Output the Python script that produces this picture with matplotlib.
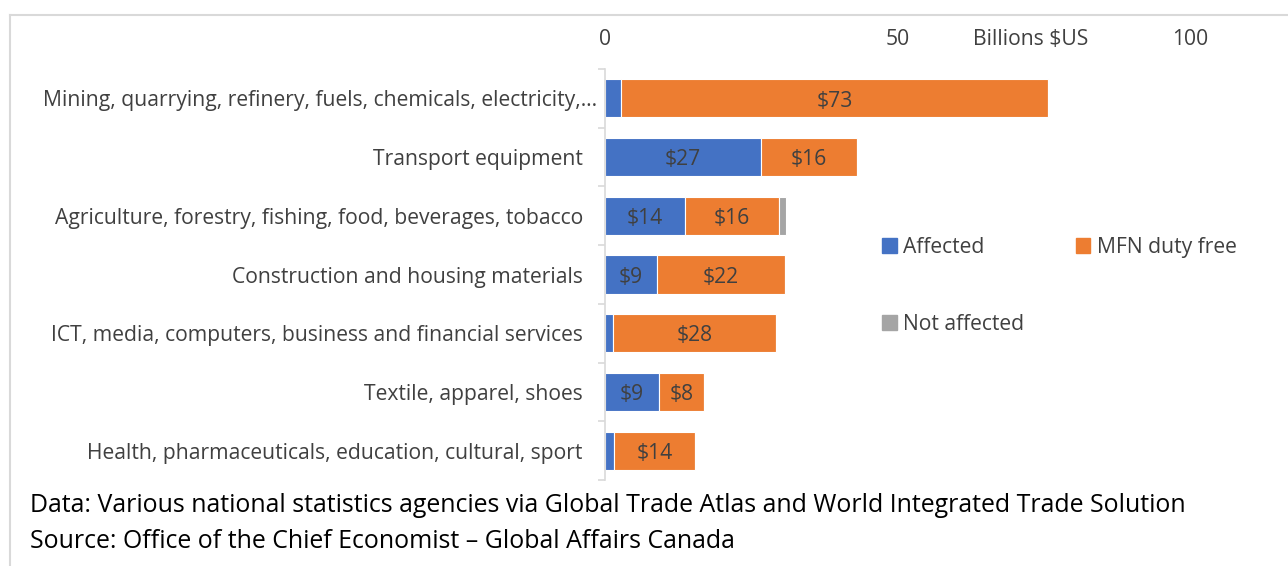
import matplotlib
matplotlib.use("Agg")
import matplotlib.pyplot as plt
import matplotlib.transforms as mtransforms
import numpy as np
from matplotlib.patches import Patch
from matplotlib.lines import Line2D

plt.rcParams['font.family'] = ['Open Sans', 'DejaVu Sans']

# ---------------- data ----------------
categories = [
    "Mining, quarrying, refinery, fuels, chemicals, electricity,\u2026",
    "Transport equipment",
    "Agriculture, forestry, fishing, food, beverages, tobacco",
    "Construction and housing materials",
    "ICT, media, computers, business and financial services",
    "Textile, apparel, shoes",
    "Health, pharmaceuticals, education, cultural, sport",
]
affected = [2.7, 26.7, 13.7, 8.9, 1.4, 9.2, 1.5]
mfn_free = [73.0, 16.4, 16.1, 21.9, 27.8, 7.7, 13.9]
not_affected = [0.0, 0.0, 1.2, 0.0, 0.0, 0.0, 0.0]
xticks = [0, 50, 100]

c_aff = "#4472C4"
c_mfn = "#ED7D31"
c_not = "#A5A5A5"
txt = "#404040"
fs = 15.2

W, H = 1288, 566
fig = plt.figure(figsize=(W / 100, H / 100), dpi=100)

x0, x1 = 605, 605 + 110 * 5.85
ytop, ybot = 69, 480
ax = fig.add_axes([x0 / W, 1 - ybot / H, (x1 - x0) / W, (ybot - ytop) / H])

y = np.arange(len(categories))
aff = np.array(affected)
mfn = np.array(mfn_free)
nota = np.array(not_affected)

h = 0.65
ax.barh(y, aff, height=h, color=c_aff, edgecolor="white", linewidth=0.8)
ax.barh(y, mfn, left=aff, height=h, color=c_mfn, edgecolor="white", linewidth=0.8)
ax.barh(y, nota, left=aff + mfn, height=h, color=c_not, edgecolor="white", linewidth=0.8)

# segment labels, nudged down a little like the original
for i in range(len(y)):
    if aff[i] >= 5:
        ax.annotate("$%d" % round(aff[i]), xy=(aff[i] / 2, y[i]), xytext=(0, -2),
                    textcoords="offset points", ha="center", va="center",
                    fontsize=fs, color=txt)
    ax.annotate("$%d" % round(mfn[i]), xy=(aff[i] + mfn[i] / 2, y[i]), xytext=(0, -2),
                textcoords="offset points", ha="center", va="center",
                fontsize=fs, color=txt)

ax.set_xlim(0, 110)
ax.set_ylim(len(categories) - 0.5, -0.5)
ax.set_yticks(y)
ax.set_yticklabels(categories, fontsize=fs, color=txt)
ax.set_yticks(np.arange(len(categories) + 1) - 0.5, minor=True)
ax.tick_params(axis="y", which="major", length=0, pad=16)
ax.tick_params(axis="y", which="minor", length=5, color="#D9D9D9", width=1.2)
# the truncated first label sits closer to the axis
lab0 = ax.get_yticklabels()[0]
lab0.set_transform(lab0.get_transform() + mtransforms.ScaledTranslation(14 / 100, 0, fig.dpi_scale_trans))

xpad = 14
ax.xaxis.tick_top()
ax.set_xticks(xticks)
ax.set_xticklabels([str(v) for v in xticks], fontsize=fs, color=txt)
ax.tick_params(axis="x", length=0, pad=xpad)
ax.annotate("Billions $US", xy=(72.8, 1.0), xycoords=ax.get_xaxis_transform(),
            xytext=(0, xpad), textcoords="offset points",
            ha="center", va="bottom", fontsize=fs, color=txt)

for s in ["top", "right", "bottom"]:
    ax.spines[s].set_visible(False)
ax.spines["left"].set_color("#D9D9D9")
ax.spines["left"].set_linewidth(1.2)

handles = [Patch(color=c_aff, label="Affected"),
           Patch(color=c_not, label="Not affected"),
           Patch(color=c_mfn, label="MFN duty free")]
fig.legend(handles=handles, ncol=2, loc="upper left",
           bbox_to_anchor=(882 / W, 1 - 237 / H), frameon=False,
           fontsize=fs, labelcolor=txt, handlelength=0.69, handleheight=0.69,
           handletextpad=0.3, labelspacing=2.65, columnspacing=2.45, borderaxespad=0,
           borderpad=0)

fig.text(30 / W, 1 - 506 / H, "Data: Various national statistics agencies via Global Trade Atlas and World Integrated Trade Solution",
         fontsize=17.9, color="black", va="center", ha="left")
fig.text(30 / W, 1 - 541 / H, "Source: Office of the Chief Economist \u2013 Global Affairs Canada",
         fontsize=17.9, color="black", va="center", ha="left")

# chart border
fig.add_artist(Line2D([10 / W, 1], [1 - 15 / H, 1 - 15 / H], color="#D9D9D9", lw=1.5))
fig.add_artist(Line2D([10 / W, 10 / W], [0, 1 - 15 / H], color="#D9D9D9", lw=1.5))

fig.savefig("out.png", dpi=100)
